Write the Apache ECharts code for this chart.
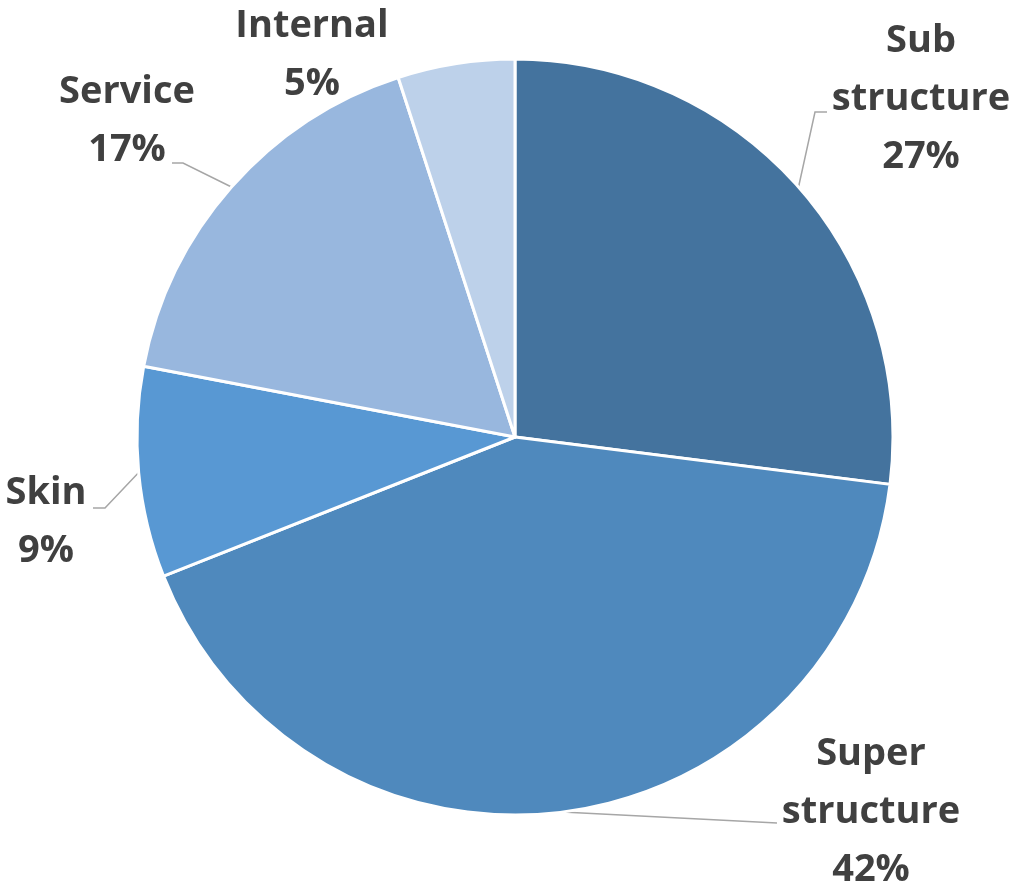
<!DOCTYPE html>
<html>
<head>
<meta charset="utf-8">
<title>Cost breakdown</title>
<script src="https://cdn.jsdelivr.net/npm/echarts@6/dist/echarts.min.js"></script>
<style>
  html, body { margin: 0; padding: 0; background: #ffffff; }
  #chart { width: 1018px; height: 890px; }
</style>
</head>
<body>
<div id="chart"></div>
<script>
// Share of cost by building element (percent)
const categories = ['Sub\nstructure', 'Super\nstructure', 'Skin', 'Service', 'Internal'];
const shares = [27, 42, 9, 17, 5];
const sliceColors = ['#44739e', '#4f89bd', '#5898d3', '#98b7de', '#bdd1ea'];

// Label placement (block centre) and leader-line elbow/end points
const labelCentres = [[921, 99], [871, 812], [46, 522], [127, 121], [312, 55]];
const leaderPoints = [
  [[815, 112], [827, 112]],
  [[777, 823], [777, 823]],
  [[105, 508], [93, 508]],
  [[183, 163], [172, 163]],
  null
];

const chart = echarts.init(document.getElementById('chart'), null, { renderer: 'canvas' });

const data = categories.map((name, i) => ({
  name: name,
  value: shares[i],
  itemStyle: { color: sliceColors[i] },
  labelLine: { show: leaderPoints[i] !== null }
}));

chart.setOption({
  animation: false,
  series: [{
    type: 'pie',
    center: [515, 437],
    radius: 378,
    startAngle: 90,
    clockwise: true,
    data: data,
    itemStyle: { borderColor: '#ffffff', borderWidth: 3 },
    label: {
      show: true,
      position: 'outside',
      formatter: '{b}\n{d}%',
      fontFamily: '"Open Sans", sans-serif',
      fontWeight: 'bold',
      fontSize: 38,
      lineHeight: 58,
      color: '#404040',
      align: 'center',
      width: 300,
      overflow: 'none'
    },
    labelLine: {
      show: true,
      lineStyle: { color: '#a6a6a6', width: 1.5 }
    },
    emphasis: { disabled: true },
    labelLayout: function (params) {
      const i = params.dataIndex;
      const c = labelCentres[i];
      const out = { x: c[0], y: c[1], align: 'center', verticalAlign: 'middle' };
      const lp = leaderPoints[i];
      if (lp && params.labelLinePoints) {
        out.labelLinePoints = [params.labelLinePoints[0], lp[0], lp[1]];
      }
      return out;
    }
  }]
});
</script>
</body>
</html>
